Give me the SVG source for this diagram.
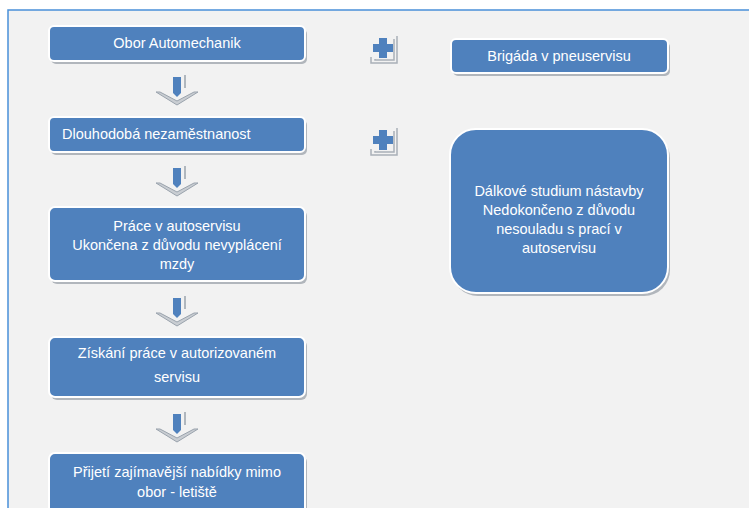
<svg xmlns="http://www.w3.org/2000/svg" width="749" height="508" viewBox="0 0 749 508">
<defs>
<style>
.shadow{fill:#a0a6ae;opacity:0.8}
.box{fill:#4f81bd;stroke:#ffffff;stroke-width:2}
.t{font-family:"Liberation Sans",Arial,sans-serif;font-size:14.5px;fill:#ffffff}
.c{text-anchor:middle}
.stem{fill:#4f81bd}
.chev{fill:#c9cdd2;stroke:#9aa3ad;stroke-width:1}
.tick{stroke:#9aa3ad;stroke-width:1.5}
.plus{fill:#4f81bd}
.pshadow{fill:none;stroke:#a9b0b8;stroke-width:1.5}
</style>
<g id="arrowShape">
<rect x="-4" y="0" width="8" height="16" class="stem"/>
<polygon points="-4,16 4,16 0,20" class="stem"/>
<line x1="8" y1="-2" x2="8" y2="11" class="tick"/>
<polygon points="-21,15 0,28 21,15 17,15 0,24 -17,15" class="chev"/>
</g>
<g id="plusShape">
<polyline points="-12,9 -12,15 14,15 14,-12" class="pshadow"/>
<polyline points="-8,11 -8,12 11,12 11,-9" class="pshadow"/>
<path d="M-4,-10 H4 V-4 H10 V4 H4 V10 H-4 V4 H-10 V-4 H-4 Z" class="plus"/>
</g>
</defs>
<rect x="0" y="0" width="749" height="508" fill="#ffffff"/>
<rect x="8" y="10" width="760" height="520" fill="#f2f2f2" stroke="#4a90d9" stroke-width="1.5"/>

<g id="connectors">
<use href="#arrowShape" x="177" y="77"/>
<use href="#arrowShape" x="177" y="168"/>
<use href="#arrowShape" x="177" y="298"/>
<use href="#arrowShape" x="177" y="414"/>
<use href="#plusShape" x="383" y="48"/>
<use href="#plusShape" x="383" y="140"/>
</g>

<g id="n1">
<rect x="51" y="29" width="256" height="35" rx="5" class="shadow"/>
<rect x="49" y="26" width="256" height="35" rx="5" class="box"/>
<text x="177" y="48" class="t c">Obor Automechanik</text>
</g>
<g id="n2">
<rect x="51" y="120" width="256" height="35" rx="5" class="shadow"/>
<rect x="49" y="117" width="256" height="35" rx="5" class="box"/>
<text x="62" y="139" class="t">Dlouhodobá nezaměstnanost</text>
</g>
<g id="n3">
<rect x="51" y="210" width="256" height="74" rx="6" class="shadow"/>
<rect x="49" y="207" width="256" height="74" rx="6" class="box"/>
<text x="177" y="231" class="t c">Práce v autoservisu</text>
<text x="177" y="250" class="t c">Ukončena z důvodu nevyplácení</text>
<text x="177" y="269" class="t c">mzdy</text>
</g>
<g id="n4">
<rect x="51" y="340" width="256" height="60" rx="6" class="shadow"/>
<rect x="49" y="337" width="256" height="60" rx="6" class="box"/>
<text x="177" y="358" class="t c">Získání práce v autorizovaném</text>
<text x="177" y="382" class="t c">servisu</text>
</g>
<g id="n5">
<rect x="51" y="456" width="256" height="70" rx="6" class="shadow"/>
<rect x="49" y="453" width="256" height="70" rx="6" class="box"/>
<text x="177" y="477" class="t c">Přijetí zajímavější nabídky mimo</text>
<text x="177" y="497" class="t c">obor - letiště</text>
</g>
<g id="r1">
<rect x="453" y="42" width="217" height="34" rx="5" class="shadow"/>
<rect x="451" y="39" width="217" height="34" rx="5" class="box"/>
<text x="559" y="61" class="t c">Brigáda v pneuservisu</text>
</g>
<g id="r2">
<rect x="452" y="132" width="218" height="164" rx="26" class="shadow"/>
<rect x="450" y="129" width="218" height="164" rx="26" class="box"/>
<text x="559" y="196" class="t c">Dálkové studium nástavby</text>
<text x="559" y="215" class="t c">Nedokončeno z důvodu</text>
<text x="559" y="234" class="t c">nesouladu s prací v</text>
<text x="559" y="253" class="t c">autoservisu</text>
</g>
</svg>
